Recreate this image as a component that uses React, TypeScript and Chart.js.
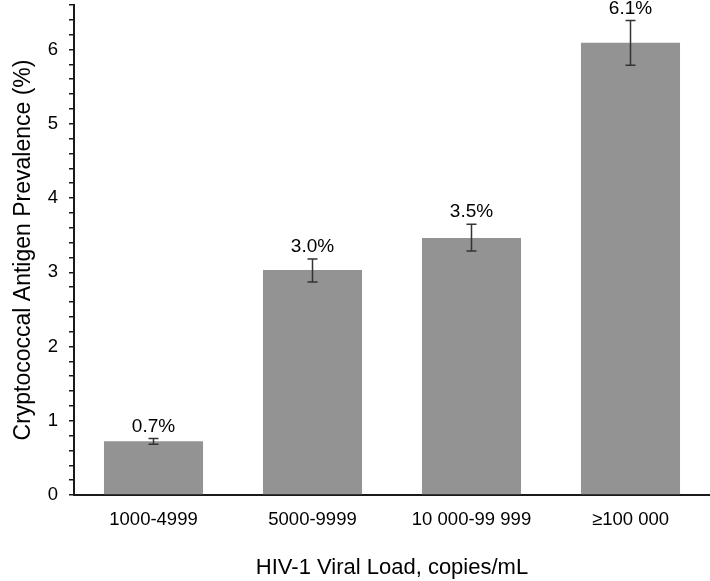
import React, { useEffect, useRef } from "react";
import { Chart, registerables } from "chart.js";

Chart.register(...registerables);

const categories = ["1000-4999", "5000-9999", "10 000-99 999", "\u2265100 000"];
const prevalence = [0.725, 3.03, 3.46, 6.09];
const errLow = [0.685, 2.87, 3.285, 5.79];
const errHigh = [0.76, 3.18, 3.647, 6.39];
const yMin = 0;
const yMax = 6.6;
const yStep = 0.2;
const yTitle = "Cryptococcal Antigen Prevalence (%)";
const xTitle = "HIV-1 Viral Load, copies/mL";

const FONT = "Arial, 'Liberation Sans', Helvetica, sans-serif";

const errorBarPlugin = {
  id: "errorBarsAndLabels",
  afterDatasetsDraw(chart: any) {
    const ctx = chart.ctx;
    const y = chart.scales.y;
    const meta = chart.getDatasetMeta(0);
    ctx.save();
    meta.data.forEach((bar: any, i: number) => {
      const x = bar.x;
      const yHi = y.getPixelForValue(errHigh[i]);
      const yLo = y.getPixelForValue(errLow[i]);
      ctx.strokeStyle = "#333333";
      ctx.lineWidth = 1.5;
      ctx.beginPath();
      ctx.moveTo(x, yHi);
      ctx.lineTo(x, yLo);
      ctx.moveTo(x - 5, yHi);
      ctx.lineTo(x + 5, yHi);
      ctx.moveTo(x - 5, yLo);
      ctx.lineTo(x + 5, yLo);
      ctx.stroke();
      ctx.fillStyle = "#000000";
      ctx.font = `19px ${FONT}`;
      ctx.textAlign = "center";
      ctx.textBaseline = "middle";
      ctx.fillText(prevalence[i].toFixed(1) + "%", x, yHi - 12);
    });
    ctx.restore();
  },
};

export default function App() {
  const ref = useRef<HTMLCanvasElement | null>(null);
  useEffect(() => {
    document.body.style.margin = "0";
    const canvas = ref.current!;
    const chart = new Chart(canvas, {
      type: "bar",
      data: {
        labels: categories,
        datasets: [
          {
            data: prevalence,
            backgroundColor: "#939393",
            borderWidth: 0,
            categoryPercentage: 1,
            barPercentage: 0.623,
          },
        ],
      },
      options: {
        animation: false,
        responsive: false,
        maintainAspectRatio: false,
        devicePixelRatio: 1,
        layout: { padding: { top: 5, right: 0, bottom: 0, left: 0 } },
        plugins: {
          legend: { display: false },
          tooltip: { enabled: false },
        },
        scales: {
          x: {
            grid: { display: false, drawTicks: false },
            border: { display: true, color: "#1a1a1a", width: 2 },
            ticks: {
              color: "#000",
              font: { family: FONT, size: 18.5 },
              padding: 14,
              maxRotation: 0,
              autoSkip: false,
            },
            title: {
              display: true,
              text: xTitle,
              color: "#000",
              font: { family: FONT, size: 22 },
              padding: { top: 0, bottom: 0 },
            },
            afterFit(scale: any) {
              scale.height = 86;
              scale.paddingLeft = 0;
              scale.paddingRight = 0;
            },
          },
          y: {
            min: yMin,
            max: yMax,
            ticks: {
              stepSize: yStep,
              autoSkip: false,
              color: "#000",
              font: { family: FONT, size: 18.5 },
              padding: 11,
              callback: (v: any) => {
                const n = Number(v);
                return Math.abs(n - Math.round(n)) < 1e-6 ? String(Math.round(n)) : "";
              },
            },
            grid: {
              display: true,
              drawOnChartArea: false,
              drawTicks: true,
              tickLength: 5,
              color: "#1a1a1a",
              lineWidth: 1.5,
            },
            border: { display: true, color: "#1a1a1a", width: 2 },
            title: {
              display: true,
              text: yTitle,
              color: "#000",
              font: { family: FONT, size: 23 },
              padding: { top: 10, bottom: 0 },
            },
            afterFit(scale: any) {
              scale.width = 74;
              scale.paddingTop = 0;
              scale.paddingBottom = 0;
            },
          },
        },
      },
      plugins: [errorBarPlugin],
    });
    return () => chart.destroy();
  }, []);
  return (
    <div style={{ width: 710, height: 581, position: "relative" }}>
      <canvas ref={ref} width={710} height={581} style={{ display: "block" }} />
    </div>
  );
}
